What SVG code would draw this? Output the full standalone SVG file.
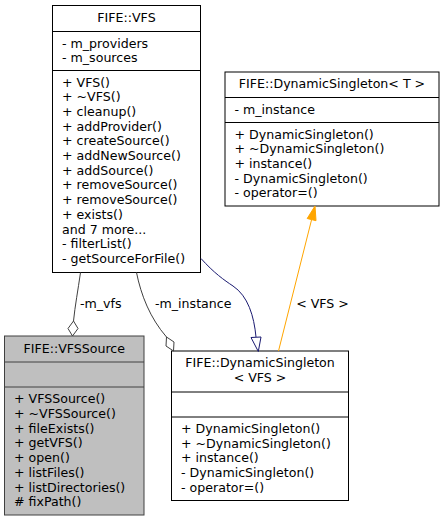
<svg xmlns="http://www.w3.org/2000/svg" width="444" height="521" viewBox="0 0 444 521">
<style>
text{font-family:"DejaVu Sans","Liberation Sans",sans-serif;font-size:12.6px;fill:#000}
.c{text-anchor:middle}
.box{fill:#fff;stroke:#000;stroke-width:1}
.cur{fill:#bfbfbf;stroke:#404040;stroke-width:1}
.div{stroke:#000;stroke-width:1}
.divc{stroke:#404040;stroke-width:1}
.e{fill:none;stroke:#404040;stroke-width:1}
.inh{fill:none;stroke:#191970;stroke-width:1}
.tpl{fill:none;stroke:#ffa500;stroke-width:1}
</style>
<rect width="444" height="521" fill="#fff"/>
<g id="node-VFS">
<rect class="box" x="52.5" y="5.5" width="148" height="267"/>
<line class="div" x1="52.5" y1="31.5" x2="200.5" y2="31.5"/>
<line class="div" x1="52.5" y1="70.5" x2="200.5" y2="70.5"/>
<text class="c" x="126.5" y="21.5">FIFE::VFS</text>
<text x="62" y="47.5">- m_providers</text>
<text x="62" y="62.2">- m_sources</text>
<text x="62" y="86.5">+ VFS()</text>
<text x="62" y="101.2">+ ~VFS()</text>
<text x="62" y="115.9">+ cleanup()</text>
<text x="62" y="130.6">+ addProvider()</text>
<text x="62" y="145.3">+ createSource()</text>
<text x="62" y="160">+ addNewSource()</text>
<text x="62" y="174.7">+ addSource()</text>
<text x="62" y="189.4">+ removeSource()</text>
<text x="62" y="204.1">+ removeSource()</text>
<text x="62" y="218.8">+ exists()</text>
<text x="62" y="233.5">and 7 more...</text>
<text x="62" y="248.2">- filterList()</text>
<text x="62" y="262.9">- getSourceForFile()</text>
</g>
<g id="node-DynamicSingletonT">
<rect class="box" x="225" y="72" width="214" height="134"/>
<line class="div" x1="225" y1="97.5" x2="439" y2="97.5"/>
<line class="div" x1="225" y1="122.5" x2="439" y2="122.5"/>
<text class="c" x="332" y="88">FIFE::DynamicSingleton&lt; T &gt;</text>
<text x="234.5" y="113.5">- m_instance</text>
<text x="234.5" y="138.5">+ DynamicSingleton()</text>
<text x="234.5" y="153.2">+ ~DynamicSingleton()</text>
<text x="234.5" y="167.9">+ instance()</text>
<text x="234.5" y="182.6">- DynamicSingleton()</text>
<text x="234.5" y="197.3">- operator=()</text>
</g>
<g id="node-VFSSource">
<rect class="cur" x="4.5" y="336" width="139.5" height="179"/>
<line class="divc" x1="4.5" y1="362" x2="144" y2="362"/>
<line class="divc" x1="4.5" y1="387" x2="144" y2="387"/>
<text class="c" x="74.25" y="352.5">FIFE::VFSSource</text>
<text x="14" y="403.3">+ VFSSource()</text>
<text x="14" y="418">+ ~VFSSource()</text>
<text x="14" y="432.7">+ fileExists()</text>
<text x="14" y="447.4">+ getVFS()</text>
<text x="14" y="462.1">+ open()</text>
<text x="14" y="476.8">+ listFiles()</text>
<text x="14" y="491.5">+ listDirectories()</text>
<text x="14" y="506.2"># fixPath()</text>
</g>
<g id="node-DynamicSingletonVFS">
<rect class="box" x="171.5" y="351" width="177" height="149.5"/>
<line class="div" x1="171.5" y1="392" x2="348.5" y2="392"/>
<line class="div" x1="171.5" y1="417" x2="348.5" y2="417"/>
<text class="c" x="260" y="367">FIFE::DynamicSingleton</text>
<text class="c" x="260" y="381.7">&lt; VFS &gt;</text>
<text x="181" y="433">+ DynamicSingleton()</text>
<text x="181" y="447.7">+ ~DynamicSingleton()</text>
<text x="181" y="462.4">+ instance()</text>
<text x="181" y="477.1">- DynamicSingleton()</text>
<text x="181" y="491.8">- operator=()</text>
</g>
<g id="connectors">
<path class="e" d="M80.5,272.5 C78,290 75,306 73.5,321"/>
<polygon class="e" points="73.5,321 78,328.5 72.5,336 68,328.5"/>
<text x="80" y="307.5">-m_vfs</text>
<path class="e" d="M136.5,272.5 C141,295 150,318 166.5,337"/>
<polygon class="e" points="166.5,337 174,342 173.5,351 166,346"/>
<text x="155" y="307.5">-m_instance</text>
<path class="inh" d="M201,258.5 C214,273 224,280 233,286 C248,296 254,316 256,337"/>
<polygon class="inh" points="251,337.5 261,337 258.3,351.5"/>
<path class="tpl" d="M278.5,351 L311.6,219.6"/>
<polygon fill="#ffa500" stroke="#ffa500" points="307.2,218.5 316,220.7 315,206"/>
<text class="c" x="322.5" y="308">&lt; VFS &gt;</text>
</g>
</svg>
